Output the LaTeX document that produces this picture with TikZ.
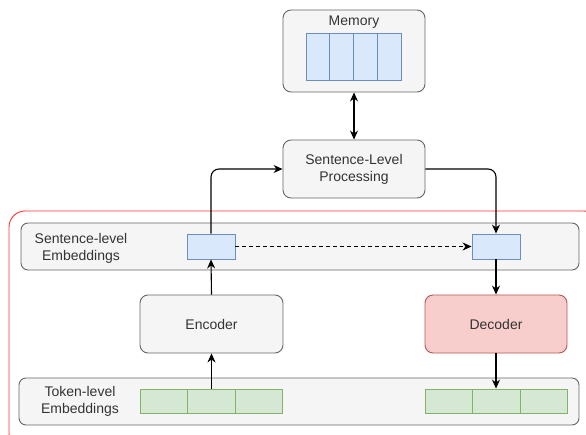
\documentclass[tikz,border=0pt]{standalone}
\usepackage{fontspec}
\setmainfont{Liberation Sans}
\usetikzlibrary{arrows.meta}
\definecolor{boxfill}{HTML}{F5F5F5}
\definecolor{boxline}{HTML}{666666}
\definecolor{txt}{HTML}{333333}
\definecolor{bluefill}{HTML}{DAE8FC}
\definecolor{blueline}{HTML}{6C8EBF}
\definecolor{greenfill}{HTML}{D5E8D4}
\definecolor{greenline}{HTML}{82B366}
\definecolor{redfill}{HTML}{F8CECC}
\definecolor{redline}{HTML}{B85450}
\definecolor{frame}{HTML}{FF3333}
\tikzset{
  graybox/.style={draw=boxline, fill=boxfill, rounded corners=8pt, line width=0.9pt, inner sep=0pt, text=txt, align=center, font=\fontsize{14}{17}\selectfont},
  band/.style={draw=boxline, fill=boxfill, rounded corners=7pt, line width=0.9pt, inner sep=0pt},
  bluecell/.style={draw=blueline, fill=bluefill, line width=0.9pt, inner sep=0pt},
  greencell/.style={draw=greenline, fill=greenfill, line width=0.9pt, inner sep=0pt},
  lbl/.style={text=txt, align=center, font=\fontsize{14}{17}\selectfont, inner sep=0pt},
  arr/.style={-{Stealth[length=9pt,width=8pt]}, line width=1.1pt, black},
  darr/.style={{Stealth[length=9pt,width=8pt]}-{Stealth[length=9pt,width=8pt]}, line width=1.1pt, black},
}
\begin{document}
\begin{tikzpicture}[x=1pt,y=-1pt]
\useasboundingbox (0,0) rectangle (586,434);
\begin{scope}
\clip (0,0) rectangle (586,434);
% red frame
\draw[frame, line width=0.9pt, rounded corners=16pt] (9,211) rectangle (600,450);
\end{scope}
% Memory
\node[graybox, minimum width=142pt, minimum height=82pt] (mem) at (354,51) {};
\node[lbl] (memlbl) at (354,22) {Memory};
\foreach \i/\x in {1/317.9,2/341.6,3/365.4,4/389.1}
  \node[bluecell, minimum width=23.75pt, minimum height=47pt] (m\i) at (\x,56.5) {};
% Sentence-Level Processing
\node[graybox, minimum width=142pt, minimum height=58pt] (slp) at (354,169) {Sentence-Level\\Processing};
% bands
\node[band, minimum width=558pt, minimum height=47pt] (sband) at (300,246.5) {};
\node[lbl] (slbl) at (81,248) {Sentence-level\\Embeddings};
\node[band, minimum width=560pt, minimum height=47pt] (tband) at (299,401.5) {};
\node[lbl] (tlbl) at (80,401) {Token-level\\Embeddings};
% sentence cells
\node[bluecell, minimum width=48pt, minimum height=25pt] (sl) at (211,246.5) {};
\node[bluecell, minimum width=48pt, minimum height=25pt] (sr) at (496,246.5) {};
% encoder / decoder
\node[graybox, minimum width=143pt, minimum height=58pt] (enc) at (211.5,324) {Encoder};
\node[graybox, draw=redline, fill=redfill, minimum width=142pt, minimum height=58pt] (dec) at (496,324) {Decoder};
% token cells
\foreach \i/\x in {1/164,2/211.5,3/259}
  \node[greencell, minimum width=47.7pt, minimum height=24pt] (tl\i) at (\x,401) {};
\foreach \i/\x in {1/449,2/496.5,3/544}
  \node[greencell, minimum width=47.7pt, minimum height=24pt] (tr\i) at (\x,401) {};
% connectors
\draw[darr] (mem.south) -- (slp.north);
\draw[arr, rounded corners=8pt] (sl.north) |- (slp.west);
\draw[arr, rounded corners=8pt] (slp.east) -| (sr.north);
\draw[arr, dashed, dash pattern=on 4pt off 3pt] (sl.east) -- (sr.west);
\draw[arr] (enc.north) -- (sl.south);
\draw[arr] (tl2.north -| enc.south) -- (enc.south);
\draw[arr] (sr.south) -- (dec.north);
\draw[arr] (dec.south) -- (dec.south |- tr2.north);
\end{tikzpicture}
\end{document}
